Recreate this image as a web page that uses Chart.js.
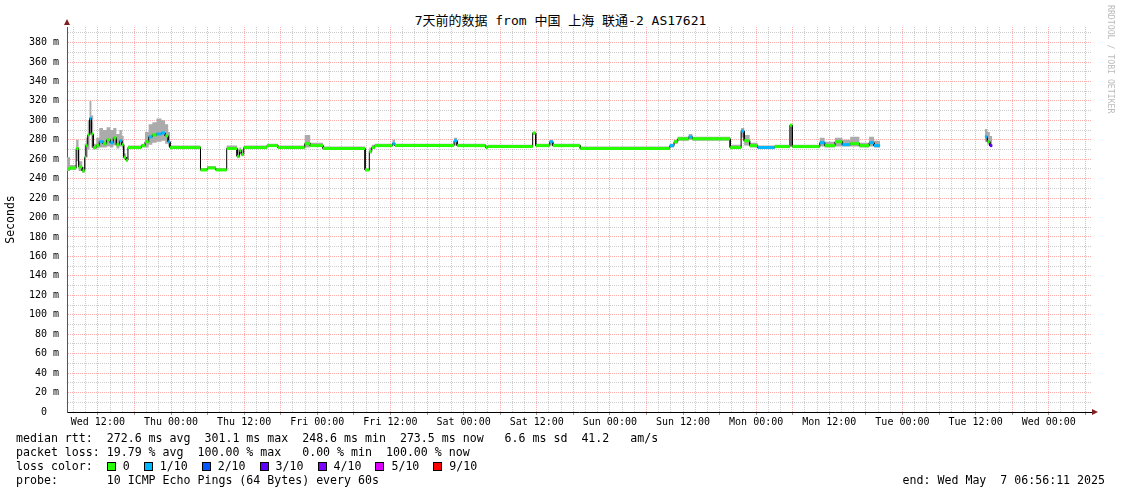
<!DOCTYPE html>
<html>
<head>
<meta charset="utf-8">
<title>7天前的数据 from 中国 上海 联通-2 AS17621</title>
<script src="https://cdn.jsdelivr.net/npm/chart.js@4.4.1/dist/chart.umd.min.js"></script>
<style>
  body { margin: 0; background: #fff; width: 1121px; height: 494px; overflow: hidden; position: relative; font-family: "DejaVu Sans Mono", monospace; color: #000; }
  #wrap { position: absolute; left: 0; top: 0; width: 1121px; height: 432px; }
  #title { position: absolute; left: 0; top: 14px; width: 1121px; text-align: center; font: 13px/13px "DejaVu Sans Mono", "Noto Sans CJK SC", monospace; white-space: pre; }
  #info { position: absolute; left: 16px; top: 431px; width: 1089px; font-size: 11.6px; line-height: 14px; white-space: pre; }
  #info .end { position: absolute; right: 0; top: 42px; }
  .sq { display: inline-block; width: 7px; height: 7px; border: 1px solid #000; vertical-align: -1px; margin-right: 7px; }
  .lab { margin-right: 14px; }
  #rrd { position: absolute; left: 1106px; top: 5px; writing-mode: vertical-rl; font-size: 8.2px; color: #bbb; }
  .arrow-up { position: absolute; left: 64px; top: 19px; width: 0; height: 0; border-left: 3px solid transparent; border-right: 3px solid transparent; border-bottom: 6px solid #7f1f1f; }
  .arrow-right { position: absolute; left: 1092px; top: 409px; width: 0; height: 0; border-top: 3px solid transparent; border-bottom: 3px solid transparent; border-left: 6px solid #7f1f1f; }
</style>
</head>
<body>
<div id="title">7天前的数据 from 中国 上海 联通-2 AS17621</div>
<div id="wrap"><canvas id="grafico" width="1121" height="432"></canvas></div>
<div class="arrow-up"></div>
<div class="arrow-right"></div>
<div id="rrd">RRDTOOL / TOBI OETIKER</div>
<div id="info"><div>median rtt:  272.6 ms avg  301.1 ms max  248.6 ms min  273.5 ms now   6.6 ms sd  41.2   am/s</div><div>packet loss: 19.79 % avg  100.00 % max   0.00 % min  100.00 % now</div><div id="lossRow">loss color:  </div><div>probe:       10 ICMP Echo Pings (64 Bytes) every 60s</div><div class="end">end: Wed May  7 06:56:11 2025</div></div>
<script>
// horas desde el inicio (Wed 06:56:11), cada valor vale hasta la hora siguiente
const hours = [0, 0.5, 1.5, 1.9, 2.5, 2.9, 3.1, 3.4, 3.7, 4.0,
  4.3, 4.8, 5.3, 5.9, 6.5, 7.1, 7.6, 8.1, 8.6, 9.0,
  9.3, 9.7, 10.0, 12.2, 12.8, 13.4, 14.0, 14.7, 15.5, 16.1,
  16.6, 16.9, 21.9, 23.0, 24.4, 26.2, 27.9, 28.3, 28.6, 29.0,
  32.8, 34.6, 39.0, 39.9, 42.0, 48.9, 49.6, 50.0, 50.5, 53.4,
  53.8, 63.5, 64.0, 68.7, 69.0, 76.4, 76.9, 79.2, 79.7, 84.2,
  98.9, 99.6, 100.2, 102.0, 102.6, 108.8, 110.6, 111.1, 112.0, 113.3,
  116.1, 118.6, 119.0, 123.5, 124.3, 126.0, 127.2, 128.5, 130.0, 131.6,
  132.4, 133.4, 150.6, 151.0, 151.4, 151.8];

// mediana rtt (ms)
const median = [250, 251, 271, 252, 248, 262, 274, 285, 302, 286,
  272, 274, 278, 276, 280, 277, 282, 275, 279, 275,
  262, 259, 272, 274, 278, 283, 285, 286, 287, 284,
  278, 272, 249, 251, 249, 271, 263, 269, 265, 272,
  274, 272, 276, 274, 271, 249, 268, 272, 274, 276,
  274, 279, 274, 272, 273, 287, 274, 278, 274, 271,
  274, 278, 281, 283, 281, 272, 289, 279, 274, 272,
  273, 295, 273, 277, 274, 278, 275, 276, 274, 277,
  274, null, 283, 278, 274, null];

// perdida (x/10)
const loss = [0, 0, 0, 0, 0, 0, 0, 0, 1, 0,
  0, 0, 1, 0, 0, 1, 0, 0, 1, 0,
  0, 0, 0, 0, 0, 1, 0, 1, 1, 0,
  1, 0, 0, 0, 0, 0, 0, 0, 0, 0,
  0, 0, 0, 0, 0, 0, 0, 0, 0, 1,
  0, 1, 0, 0, 0, 0, 0, 1, 0, 0,
  1, 0, 0, 1, 0, 0, 1, 0, 0, 1,
  0, 0, 0, 1, 0, 0, 1, 0, 0, 1,
  1, 0, 1, 0, 3, 0];

// humo: ping mas alto / mas bajo
const smokeHi = [262, 254, 280, 258, 252, 276, 282, 300, 320, 305,
  276, 282, 292, 290, 293, 290, 292, 286, 290, 284,
  266, 262, 274, 276, 288, 296, 298, 302, 300, 296,
  288, 274, 251, 253, 251, 274, 270, 272, 270, 274,
  276, 274, 285, 277, 273, 250, 272, 275, 276, 280,
  276, 282, 276, 274, 275, 288, 276, 280, 276, 273,
  276, 280, 283, 286, 283, 275, 292, 285, 277, 274,
  275, 296, 275, 282, 278, 282, 280, 283, 277, 283,
  279, null, 291, 288, 284, null];
const smokeLo = [248, 249, 258, 248, 246, 250, 262, 270, 285, 272,
  270, 271, 272, 272, 273, 272, 274, 271, 273, 271,
  260, 258, 271, 272, 272, 275, 277, 278, 279, 276,
  273, 271, 248, 250, 248, 270, 261, 266, 263, 271,
  273, 271, 272, 273, 270, 248, 266, 271, 273, 274,
  273, 274, 273, 271, 272, 285, 273, 274, 273, 270,
  272, 276, 279, 280, 279, 271, 282, 274, 272, 271,
  272, 273, 272, 273, 272, 273, 273, 273, 272, 273,
  272, null, 278, 275, 273, null];

const lossLevels = [0, 1, 2, 3, 4, 5, 9];
const lossLabels = ['0', '1/10', '2/10', '3/10', '4/10', '5/10', '9/10'];
const lossColors = ['#26ff00', '#00b8ff', '#0059ff', '#5e00ff', '#7e00ff', '#dd00ff', '#ff0000'];

const xLabels = ['Wed 12:00', 'Thu 00:00', 'Thu 12:00', 'Fri 00:00', 'Fri 12:00', 'Sat 00:00', 'Sat 12:00',
  'Sun 00:00', 'Sun 12:00', 'Mon 00:00', 'Mon 12:00', 'Tue 00:00', 'Tue 12:00', 'Wed 00:00'];
const startClock = 6 + 56 / 60 + 11 / 3600;
const spanHours = 168;

const colorFor = l => lossColors[lossLevels.indexOf(l)];

// leyenda de perdida
const row = document.getElementById('lossRow');
lossLabels.forEach((t, i) => {
  const sq = document.createElement('span');
  sq.className = 'sq';
  sq.style.background = lossColors[i];
  const lab = document.createElement('span');
  lab.className = 'lab';
  lab.textContent = t;
  row.appendChild(sq);
  row.appendChild(lab);
});

// escalones
function stepLine(vals) {
  const pts = [];
  for (let i = 0; i < hours.length - 1; i++) {
    if (vals[i] === null) { pts.push({ x: hours[i], y: null }); continue; }
    pts.push({ x: hours[i], y: vals[i] }, { x: hours[i + 1], y: vals[i] });
  }
  return pts;
}
const medPts = [];
for (let i = 0; i < hours.length - 1; i++) {
  if (median[i] === null) continue;
  medPts.push({ x: hours[i], y: median[i], loss: loss[i] }, { x: hours[i + 1], y: median[i], loss: loss[i] }, { x: hours[i + 1], y: null });
}

// rejilla cada 2 horas
const xGrid = [];
for (let v = 8 - startClock; v <= spanHours; v += 2) xGrid.push(v);
const yGrid = [];
for (let v = 0; v <= 390; v += 10) yGrid.push(v);

const clockOf = v => Math.round(startClock + v);
const mono = '"DejaVu Sans Mono", monospace';

const ctx = document.getElementById('grafico').getContext('2d');
new Chart(ctx, {
  type: 'line',
  data: {
    datasets: [
      {
        data: medPts,
        borderWidth: 3,
        borderCapStyle: 'butt',
        pointRadius: 0,
        fill: false,
        segment: { borderColor: c => colorFor(medPts[c.p0DataIndex].loss) }
      },
      {
        data: stepLine(median),
        borderColor: '#000',
        borderWidth: 1,
        pointRadius: 0,
        fill: false
      },
      {
        data: stepLine(smokeHi),
        borderWidth: 0,
        pointRadius: 0,
        backgroundColor: '#ababab',
        fill: '+1'
      },
      {
        data: stepLine(smokeLo),
        borderWidth: 0,
        pointRadius: 0,
        fill: false
      }
    ]
  },
  options: {
    responsive: false,
    devicePixelRatio: 1,
    animation: false,
    events: [],
    layout: { padding: { top: 27, right: 30, left: 0, bottom: 0 } },
    plugins: {
      legend: { display: false },
      tooltip: { enabled: false }
    },
    scales: {
      x: {
        type: 'linear',
        min: 0,
        max: spanHours,
        afterBuildTicks: s => { s.ticks = xGrid.map(v => ({ value: v })); },
        afterFit: s => { s.height = 20; },
        ticks: {
          autoSkip: false,
          maxRotation: 0,
          padding: 1,
          color: '#000',
          font: { family: mono, size: 10 },
          callback: v => {
            const c = clockOf(v);
            return c % 12 === 0 ? (xLabels[c / 12 - 1] || '') : '';
          }
        },
        grid: {
          color: c => (c.tick && clockOf(c.tick.value) % 6 === 0) ? 'rgba(255,70,70,0.45)' : 'rgba(130,130,130,0.4)',
          lineWidth: 1,
          drawTicks: true,
          tickLength: 3,
          tickBorderDash: [],
          tickColor: c => (c.tick && clockOf(c.tick.value) % 6 === 0) ? '#999' : 'rgba(0,0,0,0)'
        },
        border: { color: '#000', width: 1, dash: [1, 1] }
      },
      y: {
        min: 0,
        max: 396,
        afterBuildTicks: s => { s.ticks = yGrid.map(v => ({ value: v })); },
        afterFit: s => { s.width = 67; },
        ticks: {
          autoSkip: false,
          padding: 8,
          color: '#000',
          font: { family: mono, size: 10 },
          callback: v => v % 20 !== 0 ? '' : (v === 0 ? '0  ' : v + ' m')
        },
        grid: {
          color: c => (c.tick && c.tick.value % 20 === 0) ? 'rgba(255,70,70,0.45)' : 'rgba(130,130,130,0.4)',
          lineWidth: 1,
          drawTicks: false
        },
        border: { color: '#555', width: 1, dash: [1, 1] },
        title: {
          display: true,
          text: 'Seconds',
          color: '#000',
          font: { family: mono, size: 11.5 },
          padding: { top: 4, bottom: 0 }
        }
      }
    }
  }
});
</script>
</body>
</html>
